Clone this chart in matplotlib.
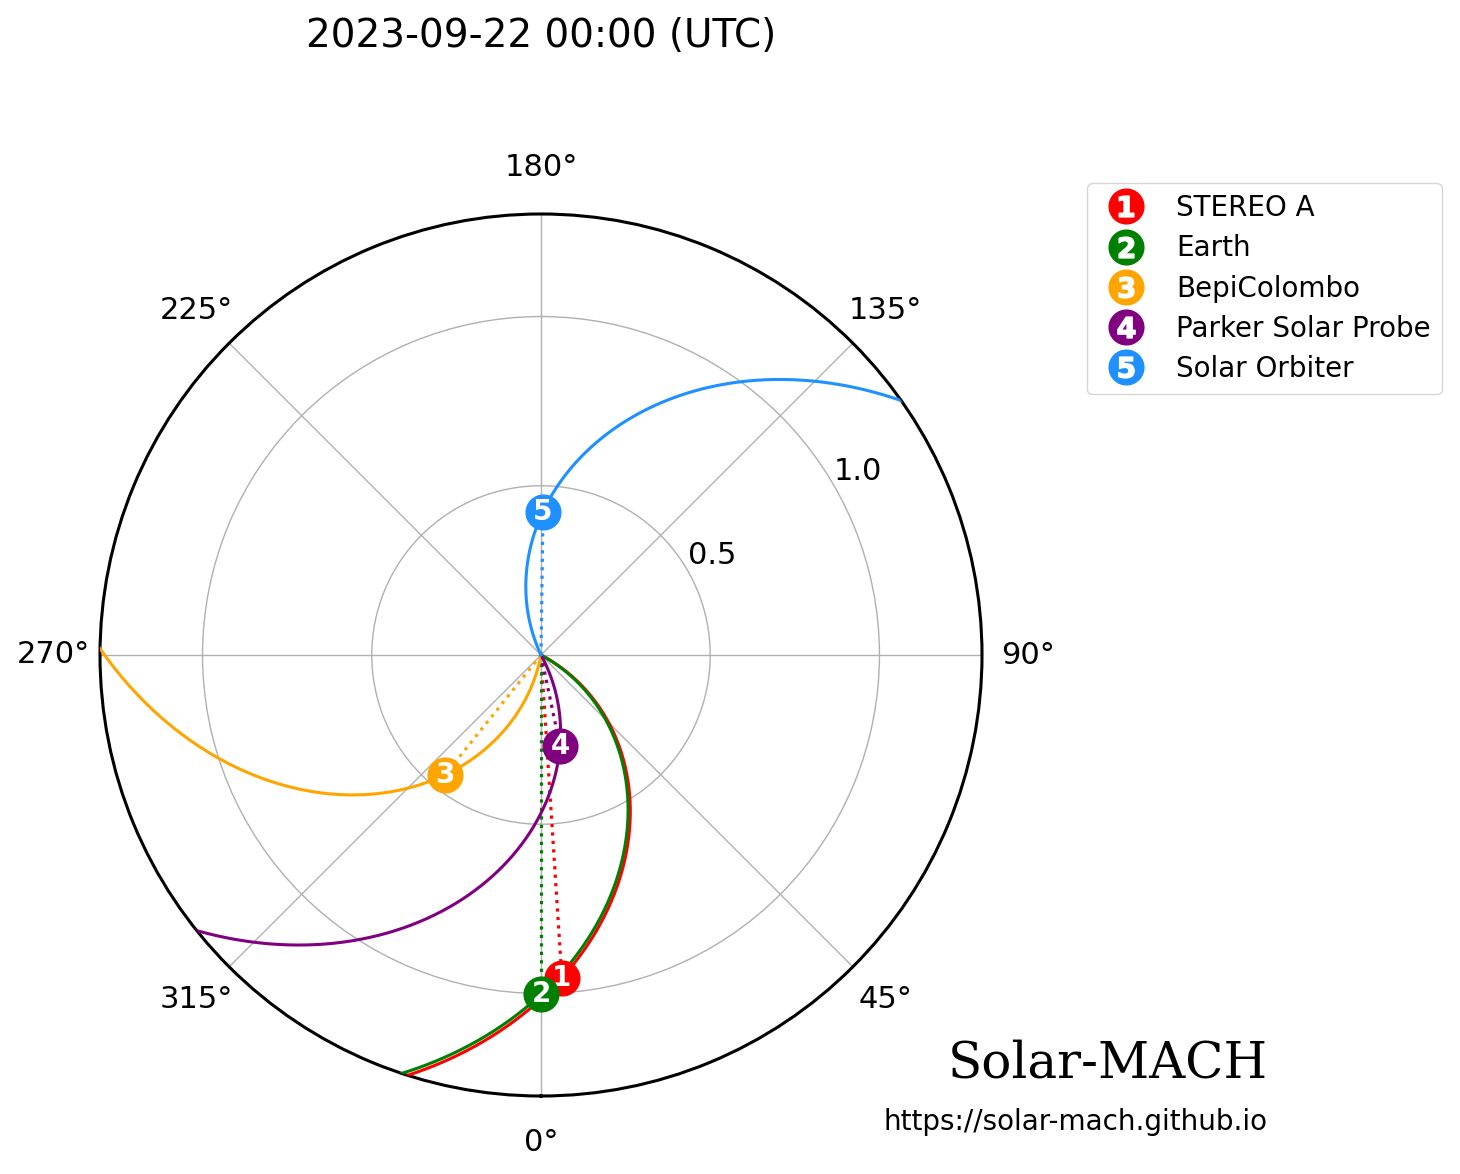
import numpy as np
import matplotlib
matplotlib.use("Agg")
import matplotlib.pyplot as plt
from matplotlib.lines import Line2D

# spacecraft positions (Stonyhurst longitude, Earth at 0)
names = ["STEREO A", "Earth", "BepiColombo", "Parker Solar Probe", "Solar Orbiter"]
colors = ["red", "green", "orange", "purple", "dodgerblue"]
dist_au = [0.956, 1.003, 0.454, 0.275, 0.424]
lon_deg = [3.7, 0.0, 321.3, 11.8, 179.2]
vsw_kms = [400, 400, 400, 400, 400]

title = "2023-09-22 00:00 (UTC)"
theta_ticks = [0, 45, 90, 135, 180, 225, 270, 315]
r_ticks = [0.5, 1.0]

AU = 1.495978707e8  # km
omega = 2 * np.pi / (25.38 * 24 * 3600)  # sidereal solar rotation, rad/s


def main():
    fig = plt.figure(figsize=(14.6, 11.74), dpi=100)
    ax = fig.add_axes([100 / 1460, 78 / 1174, 882 / 1460, 882 / 1174], projection="polar")
    ax.set_theta_zero_location("S")
    ax.set_theta_direction(1)

    rmax = max(dist_au) + 0.3
    r = np.linspace(0, rmax + 0.5, 600)

    for i, (name, c, d, lon, v) in enumerate(zip(names, colors, dist_au, lon_deg, vsw_kms)):
        # Parker spiral through the spacecraft
        phi = np.radians(lon) - omega * (r - d) * AU / v
        ax.plot(phi, r, color=c, lw=2.2, zorder=3 + i * 0.1)
        # sun-spacecraft line
        ax.plot([np.radians(lon)] * 2, [0, d], color=c, lw=2.3, ls=":", zorder=3)

    for i, (c, d, lon) in enumerate(zip(colors, dist_au, lon_deg)):
        ax.plot(np.radians(lon), d, "o", color=c, ms=25, zorder=5 + i * 0.1)
        ax.text(np.radians(lon), d, str(i + 1), color="white", fontsize=20, fontweight="bold",
                ha="center", va="center", zorder=5.05 + i * 0.1)

    ax.set_rmax(rmax)
    ax.set_rticks(r_ticks)
    ax.set_rlabel_position(120)
    ax.set_thetagrids(theta_ticks, [f"{t}°" for t in theta_ticks])
    ax.tick_params(axis="x", labelsize=22, pad=23)
    ax.tick_params(axis="y", labelsize=22)
    ax.grid(True, color="#b0b0b0", lw=1.0)
    ax.spines["polar"].set_linewidth(2.2)

    handles = []
    for i, c in enumerate(colors):
        h1 = Line2D([], [], marker="o", ls="", color=c, ms=25)
        h2 = Line2D([], [], marker=rf"$\mathbf{{{i + 1}}}$", ls="", color="white", ms=15)
        handles.append((h1, h2))
    fig.legend(handles, names, loc="upper left", bbox_to_anchor=(1087 / 1460, 1 - 183 / 1174),
               borderaxespad=0, fontsize=20, handlelength=2.0, labelspacing=0.44)

    fig.text(541 / 1460, 1 - 47 / 1174, title, ha="center", va="baseline", fontsize=28)
    fig.text(1268 / 1460, 1 - 1077 / 1174, "Solar-MACH", family="DejaVu Serif",
             ha="right", va="baseline", fontsize=36)
    fig.text(1268 / 1460, 1 - 1130 / 1174, "https://solar-mach.github.io",
             ha="right", va="baseline", fontsize=20)

    fig.savefig("out.png", dpi=100)


if __name__ == "__main__":
    main()
